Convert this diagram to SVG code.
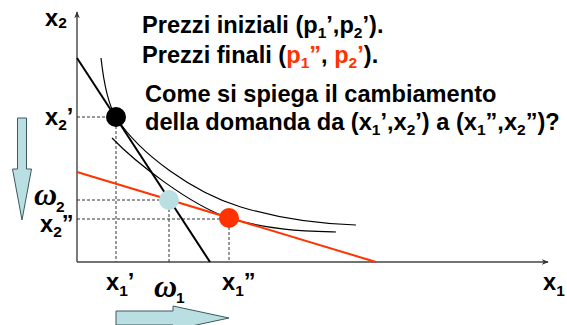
<svg xmlns="http://www.w3.org/2000/svg" width="567" height="325" viewBox="0 0 567 325">
<style>
text{font-family:"Liberation Sans",Arial,sans-serif;font-weight:bold;fill:#000}
.t{font-size:23.6px}
.s{font-size:15.5px}
.r{fill:#FF3300}
.om{font-family:"Liberation Serif","Times New Roman",serif;font-style:italic;font-weight:bold;font-size:32px}
.dash{stroke:#333;stroke-width:1;stroke-dasharray:3 2;fill:none}
.curve{stroke:#000;stroke-width:1.2;fill:none}
.axis{stroke:#444;stroke-width:1.4;fill:none}
.arr{fill:#BADFE3;stroke:#3a5a5e;stroke-width:1}
</style>
<defs>
<marker id="ah" viewBox="0 0 10 10" refX="9" refY="5" markerWidth="7" markerHeight="7" orient="auto" markerUnits="userSpaceOnUse">
<path d="M0,1 L10,5 L0,9 L3,5 Z" fill="#333"/>
</marker>
</defs>
<rect width="567" height="325" fill="#fff"/>

<g id="axes">
<line class="axis" x1="77" y1="262" x2="77" y2="12" marker-end="url(#ah)"/>
<line class="axis" x1="77" y1="262" x2="548" y2="262" marker-end="url(#ah)"/>
</g>

<g id="connectors">
<line class="dash" x1="77" y1="117" x2="108" y2="117"/>
<line class="dash" x1="116" y1="126" x2="116" y2="262"/>
<line class="dash" x1="77" y1="200" x2="160" y2="200"/>
<line class="dash" x1="169" y1="209" x2="169" y2="262"/>
<line class="dash" x1="77" y1="219" x2="221" y2="219"/>
<line class="dash" x1="229" y1="227" x2="229" y2="262"/>
</g>

<g id="curves">
<path id="curveA" class="curve" d="M101,58 C104,85 109,106 116,117 C140,155 195,193 240,206.7 C280,219 320,224 356,225"/>
<path id="curveB" class="curve" d="M112,138 C135,162 190,205 229,218 C270,230.3 305,231 336,232"/>
</g>

<g id="budget-lines">
<line id="budget1" x1="77" y1="58" x2="210" y2="262" stroke="#000" stroke-width="2"/>
<line id="budget2" x1="77" y1="172" x2="376" y2="262" stroke="#FF3300" stroke-width="2"/>
</g>

<g id="points">
<circle id="p-initial" cx="116" cy="117" r="10" fill="#000"/>
<circle id="p-comp" cx="169" cy="200" r="10" fill="#BADFE3"/>
<circle id="p-final" cx="229" cy="218" r="10" fill="#FF3300"/>
</g>

<g id="arrows">
<path id="arrow-down" class="arr" d="M17.5,118 L26.5,118 L26.5,169 L31.5,169 L22,220 L12.5,169 L17.5,169 Z"/>
<path id="arrow-right" class="arr" d="M116,311 L173,311 L173,306 L229,318 L173,330 L173,325 L116,325 Z"/>
</g>

<g id="axis-labels">
<text class="t" x="45" y="26">x<tspan class="s" dy="2">2</tspan></text>
<text class="t" x="45" y="125">x<tspan class="s" dy="5">2</tspan><tspan dy="-5">’</tspan></text>
<text x="34" y="205" class="om">ω</text><text class="s" x="56" y="212">2</text>
<text class="t" x="40" y="232">x<tspan class="s" dy="5">2</tspan><tspan dy="-5">”</tspan></text>
<text class="t" x="106" y="290">x<tspan class="s" dy="6">1</tspan><tspan dy="-6">’</tspan></text>
<text x="154" y="297" class="om">ω</text><text class="s" x="176" y="303">1</text>
<text class="t" x="222" y="290">x<tspan class="s" dy="6">1</tspan><tspan dy="-6">”</tspan></text>
<text class="t" x="543" y="290">x<tspan class="s" dy="6">1</tspan></text>
</g>

<g id="title-text">
<text class="t" x="142" y="33">Prezzi iniziali (p<tspan class="s" dy="5">1</tspan><tspan dy="-5">’,p</tspan><tspan class="s" dy="5">2</tspan><tspan dy="-5">’).</tspan></text>
<text class="t" x="142" y="63">Prezzi finali (<tspan class="r">p</tspan><tspan class="s r" dy="5">1</tspan><tspan class="r" dy="-5">”</tspan>, <tspan class="r">p</tspan><tspan class="s r" dy="5">2</tspan><tspan class="r" dy="-5">’</tspan>).</text>
<text class="t" x="145" y="102">Come si spiega il cambiamento</text>
<text class="t" x="145" y="130">della domanda da (x<tspan class="s" dy="5">1</tspan><tspan dy="-5">’,x</tspan><tspan class="s" dy="5">2</tspan><tspan dy="-5">’) a (x</tspan><tspan class="s" dy="5">1</tspan><tspan dy="-5">”,x</tspan><tspan class="s" dy="5">2</tspan><tspan dy="-5">”)?</tspan></text>
</g>
</svg>
